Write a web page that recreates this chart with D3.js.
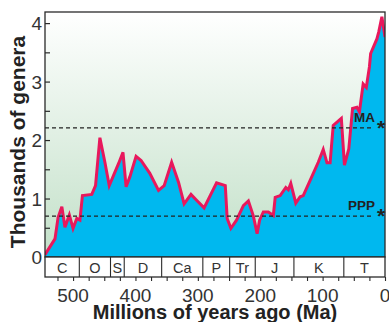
<!DOCTYPE html>
<html>
<head>
<meta charset="utf-8">
<script src="https://cdn.jsdelivr.net/npm/d3@7"></script>
<style>
  body { margin: 0; background: #fff; }
  svg { display: block; font-family: "Liberation Sans", Arial, sans-serif; }
</style>
</head>
<body>
<script>
// genus counts (thousands) vs age (Ma)
var ages = [545, 529, 524, 518, 513, 506, 500, 494, 489, 485, 470, 464, 457, 449, 442, 427, 420, 415, 409, 399,
            391, 377, 363, 354, 342, 331, 322, 311, 302, 290, 270, 256, 253, 247, 238, 227, 219, 211, 205, 201,
            195, 187, 179, 176, 168, 159, 155, 151, 143, 136, 131, 120, 107, 99, 93, 88, 83, 70, 65, 58,
            52, 45, 41, 35, 30, 25, 23, 13, 10, 5, 0];
var genera = [0.04, 0.31, 0.68, 0.86, 0.51, 0.72, 0.49, 0.66, 0.63, 1.05, 1.07, 1.22, 2.04, 1.62, 1.22, 1.60, 1.79, 1.20, 1.37, 1.72,
              1.65, 1.43, 1.14, 1.22, 1.62, 1.28, 0.91, 1.07, 0.97, 0.84, 1.27, 1.22, 0.66, 0.49, 0.63, 0.88, 0.96, 0.70, 0.40, 0.63,
              0.77, 0.77, 0.71, 1.02, 1.05, 1.19, 1.15, 1.26, 0.92, 1.03, 1.05, 1.31, 1.62, 1.84, 1.61, 1.61, 2.25, 2.37, 1.57, 1.85,
              2.54, 2.56, 2.48, 2.96, 2.90, 3.25, 3.48, 3.73, 3.85, 4.11, 3.76];

var periodNames = ["C", "O", "S", "D", "Ca", "P", "Tr", "J", "K", "T"];
var periodBounds = [545, 490, 440, 418, 358, 292, 249, 208, 146, 66, 0];

var refLabels = ["MA", "PPP"];
var refValues = [2.21, 0.70];

var xTicks = [500, 400, 300, 200, 100, 0];
var yTicks = [0, 1, 2, 3, 4];

var W = 389, H = 322;
var pLeft = 45, pRight = 385, pTop = 12, pBottom = 257, bandH = 20;

var svg = d3.select("body").append("svg")
    .attr("width", W)
    .attr("height", H);

var x = d3.scaleLinear().domain([545, 0]).range([pLeft, pRight]);
var y = d3.scaleLinear().domain([0, 4.19]).range([pBottom, pTop]);

var defs = svg.append("defs");
var grad = defs.append("linearGradient")
    .attr("id", "bg").attr("x1", 0).attr("y1", 0).attr("x2", 0).attr("y2", 1);
grad.append("stop").attr("offset", "0%").attr("stop-color", "#ffffff");
grad.append("stop").attr("offset", "100%").attr("stop-color", "#c2e0c8");

defs.append("clipPath").attr("id", "clip")
  .append("rect")
    .attr("x", pLeft).attr("y", pTop)
    .attr("width", pRight - pLeft).attr("height", pBottom - pTop);

svg.append("rect")
    .attr("x", pLeft).attr("y", pTop)
    .attr("width", pRight - pLeft).attr("height", pBottom - pTop)
    .attr("fill", "url(#bg)");

var pts = ages.map(function(a, i) { return [a, genera[i]]; });

var plot = svg.append("g").attr("clip-path", "url(#clip)");

plot.append("path")
    .datum(pts)
    .attr("fill", "#00b8ef")
    .attr("d", d3.area()
      .x(function(d) { return x(d[0]); })
      .y0(y(0))
      .y1(function(d) { return y(d[1]); }));

plot.append("path")
    .datum(pts)
    .attr("fill", "none")
    .attr("stroke", "#e8185c")
    .attr("stroke-width", 3)
    .attr("stroke-linejoin", "miter")
    .attr("d", d3.line()
      .x(function(d) { return x(d[0]); })
      .y(function(d) { return y(d[1]); }));

// dashed reference levels
refValues.forEach(function(v, i) {
  svg.append("line")
      .attr("x1", pLeft).attr("x2", 374)
      .attr("y1", y(v)).attr("y2", y(v))
      .attr("stroke", "#222")
      .attr("stroke-width", 1.2)
      .attr("stroke-dasharray", "4,3");
  svg.append("text")
      .attr("x", 375).attr("y", y(v) - 6)
      .attr("text-anchor", "end")
      .attr("font-size", 13.5).attr("font-weight", "bold")
      .attr("fill", "#222")
      .text(refLabels[i]);
  svg.append("text")
      .attr("x", 381).attr("y", y(v) + 7)
      .attr("text-anchor", "middle")
      .attr("font-size", 21).attr("font-weight", "bold")
      .attr("fill", "#222")
      .text("*");
});

// frame
svg.append("rect")
    .attr("x", pLeft).attr("y", pTop)
    .attr("width", pRight - pLeft).attr("height", pBottom - pTop)
    .attr("fill", "none")
    .attr("stroke", "#2a2a2a")
    .attr("stroke-width", 1.3);

// y axis, ticks inward
var yAxis = d3.axisRight(y)
    .tickValues(d3.range(0, 4.01, 0.5))
    .tickSize(5)
    .tickFormat("");
var gy = svg.append("g").attr("transform", "translate(" + pLeft + ",0)").call(yAxis);
gy.select(".domain").remove();
gy.selectAll("line").attr("stroke", "#2a2a2a").attr("stroke-width", 1.2);

svg.selectAll(".ylab")
    .data(yTicks)
  .enter().append("text")
    .attr("class", "ylab")
    .attr("x", 42)
    .attr("y", function(d) { return y(d) + 7; })
    .attr("text-anchor", "end")
    .attr("font-size", 19)
    .attr("fill", "#333")
    .text(function(d) { return d; });

// period band
var bandG = svg.append("g");
bandG.append("rect")
    .attr("x", pLeft).attr("y", pBottom)
    .attr("width", pRight - pLeft).attr("height", bandH)
    .attr("fill", "#fff")
    .attr("stroke", "#2a2a2a")
    .attr("stroke-width", 1.3);

bandG.selectAll(".div")
    .data(periodBounds.slice(1, -1))
  .enter().append("line")
    .attr("x1", function(d) { return x(d); })
    .attr("x2", function(d) { return x(d); })
    .attr("y1", pBottom).attr("y2", pBottom + bandH)
    .attr("stroke", "#2a2a2a")
    .attr("stroke-width", 1.1);

bandG.selectAll(".pname")
    .data(periodNames)
  .enter().append("text")
    .attr("x", function(d, i) { return (x(periodBounds[i]) + x(periodBounds[i + 1])) / 2; })
    .attr("y", pBottom + 16)
    .attr("text-anchor", "middle")
    .attr("font-size", 14.5)
    .attr("fill", "#333")
    .text(function(d) { return d; });

// x axis below the band
var xAxis = d3.axisBottom(x)
    .tickValues(d3.range(0, 526, 25))
    .tickSize(4)
    .tickFormat("");
var gx = svg.append("g").attr("transform", "translate(0," + (pBottom + bandH) + ")").call(xAxis);
gx.select(".domain").remove();
gx.selectAll("line").attr("stroke", "#2a2a2a").attr("stroke-width", 1.1);

svg.selectAll(".xlab")
    .data(xTicks)
  .enter().append("text")
    .attr("class", "xlab")
    .attr("x", function(d) { return x(d); })
    .attr("y", 302)
    .attr("text-anchor", "middle")
    .attr("font-size", 19)
    .attr("fill", "#333")
    .text(function(d) { return d; });

// titles
svg.append("text")
    .attr("x", 215).attr("y", 319)
    .attr("text-anchor", "middle")
    .attr("font-size", 20).attr("font-weight", "bold")
    .attr("fill", "#222")
    .text("Millions of years ago (Ma)");

svg.append("text")
    .attr("transform", "translate(25,142) rotate(-90)")
    .attr("text-anchor", "middle")
    .attr("font-size", 21).attr("font-weight", "bold")
    .attr("fill", "#222")
    .text("Thousands of genera");
</script>
</body>
</html>
